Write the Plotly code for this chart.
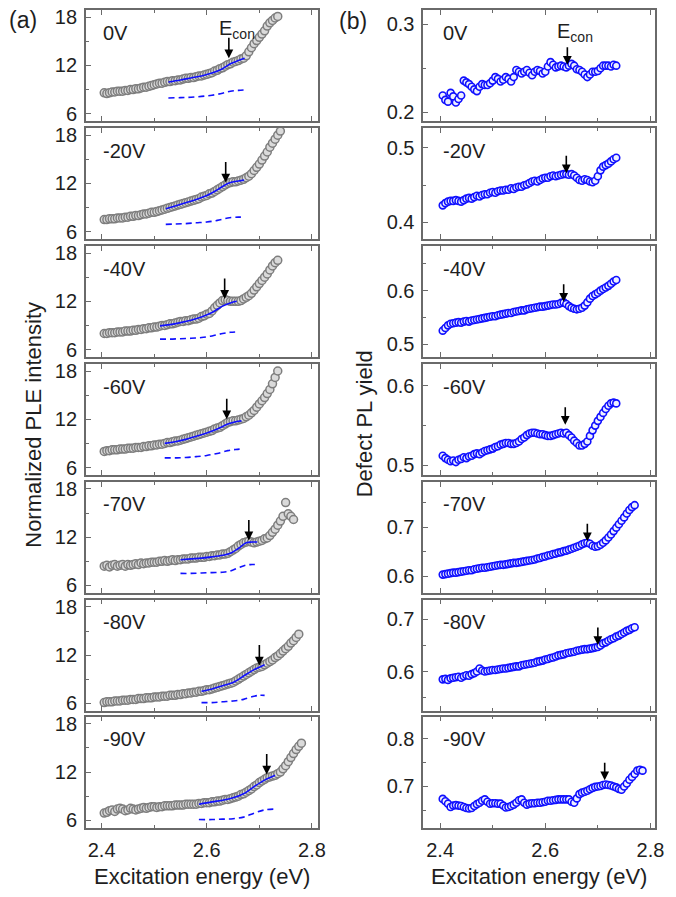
import plotly.graph_objects as go

W, H = 676, 897


def PX(x):
    return x / W


def PY(y):
    return 1 - y / H


# ---------------- data ----------------
energy = [2.405, 2.41, 2.415, 2.42, 2.425, 2.43, 2.435, 2.44, 2.445, 2.45,
          2.455, 2.46, 2.465, 2.47, 2.475, 2.48, 2.485, 2.49, 2.495, 2.5,
          2.505, 2.51, 2.515, 2.52, 2.525, 2.53, 2.535, 2.54, 2.545, 2.55,
          2.555, 2.56, 2.565, 2.57, 2.575, 2.58, 2.585, 2.59, 2.595, 2.6,
          2.605, 2.61, 2.615, 2.62, 2.625, 2.63, 2.635, 2.64, 2.645, 2.65,
          2.655, 2.66, 2.665, 2.67, 2.675, 2.68, 2.685, 2.69, 2.695, 2.7,
          2.705, 2.71, 2.715, 2.72, 2.725, 2.73, 2.735, 2.74, 2.745, 2.75,
          2.755, 2.76, 2.765, 2.77, 2.775, 2.78, 2.785]

bias_labels = ["0V", "-20V", "-40V", "-60V", "-70V", "-80V", "-90V"]

# (a) normalized PLE intensity
ple_0V = [8.6, 8.5, 8.6, 8.7, 8.7, 8.8, 8.8, 8.8, 8.9, 8.9,
          9.0, 9.0, 9.1, 9.1, 9.2, 9.3, 9.3, 9.4, 9.5, 9.6,
          9.7, 9.8, 9.8, 9.9, 10.0, 10.0, 10.1, 10.1, 10.2, 10.2,
          10.3, 10.4, 10.4, 10.5, 10.5, 10.6, 10.7, 10.7, 10.8, 10.9,
          11.0, 11.1, 11.3, 11.4, 11.6, 11.7, 11.9, 12.1, 12.2, 12.4,
          12.5, 12.6, 12.8, 12.9, 13.2, 13.7, 14.2, 14.7, 15.1, 15.5,
          15.9, 16.3, 16.9, 17.3, 17.6, 17.9, 18.1]
ple_m20V = [7.5, 7.5, 7.6, 7.6, 7.6, 7.7, 7.7, 7.7, 7.8, 7.8,
            7.9, 7.9, 8.0, 8.0, 8.1, 8.2, 8.2, 8.3, 8.4, 8.4,
            8.5, 8.6, 8.7, 8.8, 8.9, 9.0, 9.1, 9.2, 9.3, 9.4,
            9.5, 9.6, 9.7, 9.8, 9.9, 10.0, 10.1, 10.3, 10.4, 10.5,
            10.7, 10.8, 11.0, 11.2, 11.4, 11.6, 11.8, 12.0, 12.1, 12.2,
            12.2, 12.3, 12.4, 12.5, 12.7, 12.9, 13.2, 13.6, 14.0, 14.4,
            14.9, 15.4, 15.9, 16.5, 17.0, 17.5, 18.0, 18.5]
ple_m40V = [8.0, 8.0, 8.1, 8.1, 8.1, 8.2, 8.2, 8.2, 8.3, 8.3,
            8.3, 8.4, 8.4, 8.5, 8.5, 8.6, 8.6, 8.7, 8.7, 8.8,
            8.8, 8.9, 9.0, 9.0, 9.1, 9.2, 9.2, 9.3, 9.4, 9.5,
            9.5, 9.6, 9.6, 9.7, 9.8, 9.8, 9.9, 10.1, 10.2, 10.4,
            10.5, 10.8, 11.2, 11.5, 11.8, 12.1, 12.2, 12.1, 12.0, 12.0,
            12.0, 12.0, 12.1, 12.3, 12.5, 12.7, 13.0, 13.4, 13.8, 14.2,
            14.6, 15.0, 15.4, 15.9, 16.4, 16.8, 17.1]
ple_m60V = [8.0, 8.1, 8.1, 8.2, 8.2, 8.2, 8.3, 8.3, 8.3, 8.4,
            8.4, 8.4, 8.5, 8.5, 8.5, 8.6, 8.6, 8.7, 8.7, 8.8,
            8.8, 8.9, 8.9, 9.0, 9.1, 9.1, 9.2, 9.3, 9.3, 9.4,
            9.5, 9.6, 9.7, 9.8, 9.9, 10.0, 10.1, 10.2, 10.3, 10.4,
            10.5, 10.6, 10.8, 10.9, 11.0, 11.2, 11.4, 11.6, 11.7, 11.8,
            11.8, 11.9, 12.0, 12.1, 12.3, 12.5, 12.8, 13.1, 13.5, 13.9,
            14.3, 14.7, 15.2, 15.7, 16.4, 17.2, 18.0]
ple_m70V = [8.4, 8.5, 8.3, 8.5, 8.6, 8.4, 8.5, 8.6, 8.4, 8.6,
            8.5, 8.6, 8.7, 8.6, 8.8, 8.7, 8.8, 8.8, 8.9, 8.9,
            8.9, 9.0, 9.0, 9.1, 9.0, 9.1, 9.2, 9.1, 9.2, 9.2,
            9.3, 9.3, 9.3, 9.4, 9.4, 9.4, 9.5, 9.5, 9.5, 9.6,
            9.6, 9.7, 9.7, 9.8, 9.8, 9.9, 9.9, 10.0, 10.2, 10.4,
            10.6, 10.9, 11.1, 11.3, 11.4, 11.5, 11.4, 11.3, 11.4, 11.5,
            11.6, 11.8, 11.9, 12.2, 12.6, 13.0, 13.5, 14.0, 14.6, 16.3,
            14.9, 14.6, 14.2]
ple_m80V = [6.1, 6.2, 6.2, 6.2, 6.3, 6.3, 6.3, 6.4, 6.4, 6.4,
            6.5, 6.5, 6.5, 6.6, 6.6, 6.6, 6.7, 6.7, 6.7, 6.8,
            6.8, 6.8, 6.9, 6.9, 6.9, 7.0, 7.0, 7.0, 7.1, 7.1,
            7.2, 7.2, 7.3, 7.3, 7.4, 7.4, 7.5, 7.5, 7.6, 7.7,
            7.7, 7.8, 7.9, 8.0, 8.1, 8.2, 8.3, 8.4, 8.5, 8.6,
            8.8, 9.0, 9.2, 9.4, 9.6, 9.8, 10.0, 10.2, 10.4, 10.5,
            10.6, 10.8, 11.0, 11.2, 11.4, 11.7, 11.9, 12.2, 12.5, 12.8,
            13.1, 13.5, 13.8, 14.2, 14.6]
ple_m90V = [6.9, 7.0, 7.2, 7.3, 7.1, 7.4, 7.5, 7.4, 7.2, 7.3,
            7.5, 7.4, 7.3, 7.4, 7.5, 7.6, 7.5, 7.6, 7.7, 7.7,
            7.6, 7.7, 7.7, 7.8, 7.8, 7.8, 7.8, 7.9, 7.9, 7.9,
            7.9, 8.0, 8.0, 8.0, 8.0, 8.0, 8.1, 8.1, 8.2, 8.2,
            8.2, 8.3, 8.3, 8.4, 8.4, 8.5, 8.6, 8.6, 8.7, 8.8,
            8.9, 9.0, 9.2, 9.3, 9.5, 9.7, 9.9, 10.2, 10.4, 10.7,
            10.9, 11.1, 11.3, 11.4, 11.5, 11.6, 11.8, 12.0, 12.4, 12.8,
            13.3, 13.8, 14.3, 14.8, 15.2, 15.6]

# fit curves (solid) and baseline (dashed) in panel (a)
fit_x_0V = [2.527, 2.55, 2.57, 2.59, 2.61, 2.63, 2.645, 2.66, 2.672]
fit_0V = [9.95, 10.2, 10.45, 10.7, 11.05, 11.6, 12.2, 12.6, 12.9]
base_0V = [7.95, 8.0, 8.05, 8.15, 8.3, 8.55, 8.8, 8.9, 8.95]
fit_x_m20V = [2.522, 2.54, 2.56, 2.58, 2.60, 2.62, 2.64, 2.66, 2.671]
fit_m20V = [8.85, 9.2, 9.6, 10.0, 10.5, 11.2, 12.0, 12.3, 12.4]
base_m20V = [6.9, 6.95, 7.0, 7.1, 7.2, 7.4, 7.7, 7.8, 7.8]
fit_x_m40V = [2.511, 2.53, 2.55, 2.57, 2.59, 2.61, 2.63, 2.645, 2.657]
fit_m40V = [8.95, 9.1, 9.35, 9.65, 10.05, 10.6, 11.4, 11.8, 12.0]
base_m40V = [7.3, 7.3, 7.35, 7.4, 7.5, 7.7, 8.0, 8.15, 8.2]
fit_x_m60V = [2.52, 2.54, 2.56, 2.58, 2.60, 2.62, 2.64, 2.655, 2.666]
fit_m60V = [9.0, 9.2, 9.5, 9.9, 10.3, 10.8, 11.4, 11.7, 11.8]
base_m60V = [7.2, 7.2, 7.25, 7.35, 7.5, 7.75, 8.1, 8.25, 8.3]
fit_x_m70V = [2.55, 2.57, 2.59, 2.61, 2.63, 2.645, 2.66, 2.675, 2.686, 2.696]
fit_m70V = [9.2, 9.3, 9.4, 9.55, 9.75, 10.0, 10.6, 11.3, 11.4, 11.4]
base_m70V = [7.5, 7.5, 7.55, 7.6, 7.65, 7.8, 8.2, 8.55, 8.6, 8.6]
fit_x_m80V = [2.59, 2.61, 2.63, 2.65, 2.67, 2.69, 2.70, 2.71]
fit_m80V = [7.5, 7.8, 8.2, 8.6, 9.4, 10.2, 10.5, 10.8]
base_m80V = [6.1, 6.1, 6.2, 6.3, 6.5, 6.9, 7.0, 7.0]
fit_x_m90V = [2.585, 2.61, 2.63, 2.65, 2.67, 2.69, 2.71, 2.73]
fit_m90V = [8.0, 8.3, 8.5, 8.8, 9.3, 10.2, 11.0, 11.6]
base_m90V = [6.1, 6.1, 6.15, 6.2, 6.4, 6.9, 7.3, 7.4]

# (b) defect PL yield
yield_0V = [0.219, 0.214, 0.212, 0.222, 0.218, 0.211, 0.215, 0.219, 0.236, 0.234,
            0.232, 0.229, 0.226, 0.224, 0.229, 0.232, 0.231, 0.231, 0.233, 0.236,
            0.240, 0.238, 0.235, 0.237, 0.240, 0.238, 0.235, 0.240, 0.248, 0.246,
            0.244, 0.246, 0.248, 0.245, 0.242, 0.246, 0.248, 0.247, 0.244, 0.246,
            0.252, 0.257, 0.254, 0.251, 0.252, 0.253, 0.252, 0.251, 0.253, 0.255,
            0.253, 0.249, 0.248, 0.246, 0.243, 0.240, 0.243, 0.246, 0.246, 0.247,
            0.250, 0.253, 0.253, 0.253, 0.252, 0.254, 0.253]
yield_m20V = [0.423, 0.426, 0.428, 0.429, 0.429, 0.430, 0.429, 0.428, 0.430, 0.432,
              0.433, 0.432, 0.434, 0.436, 0.435, 0.437, 0.438, 0.438, 0.440, 0.441,
              0.440, 0.442, 0.443, 0.443, 0.444, 0.444, 0.446, 0.445, 0.447, 0.448,
              0.448, 0.450, 0.451, 0.453, 0.455, 0.456, 0.455, 0.457, 0.459, 0.460,
              0.460, 0.462, 0.463, 0.462, 0.463, 0.464, 0.465, 0.465, 0.464, 0.465,
              0.463, 0.460, 0.457, 0.456, 0.458, 0.457, 0.455, 0.454, 0.456, 0.462,
              0.470, 0.475, 0.477, 0.479, 0.482, 0.485, 0.487]
yield_m40V = [0.525, 0.530, 0.535, 0.538, 0.539, 0.540, 0.541, 0.540, 0.542, 0.543,
              0.542, 0.544, 0.545, 0.546, 0.547, 0.548, 0.549, 0.550, 0.551, 0.552,
              0.552, 0.554, 0.555, 0.556, 0.557, 0.558, 0.558, 0.560, 0.561, 0.562,
              0.563, 0.563, 0.565, 0.566, 0.567, 0.568, 0.569, 0.570, 0.570, 0.571,
              0.572, 0.573, 0.574, 0.574, 0.575, 0.577, 0.578, 0.575, 0.571, 0.568,
              0.566, 0.565, 0.566, 0.568, 0.572, 0.578, 0.585, 0.590, 0.593, 0.596,
              0.600, 0.603, 0.606, 0.609, 0.613, 0.617, 0.620]
yield_m60V = [0.512, 0.509, 0.507, 0.505, 0.506, 0.504, 0.507, 0.508, 0.510, 0.509,
              0.511, 0.512, 0.514, 0.515, 0.514, 0.516, 0.518, 0.519, 0.520, 0.521,
              0.523, 0.524, 0.526, 0.527, 0.528, 0.528, 0.527, 0.527, 0.528, 0.530,
              0.533, 0.535, 0.538, 0.540, 0.541, 0.541, 0.540, 0.539, 0.539, 0.538,
              0.537, 0.537, 0.538, 0.539, 0.540, 0.541, 0.540, 0.541, 0.538, 0.535,
              0.531, 0.528, 0.525, 0.525, 0.527, 0.530, 0.537, 0.544, 0.550, 0.556,
              0.561, 0.566, 0.571, 0.575, 0.578, 0.579, 0.578]
yield_m70V = [0.603, 0.604, 0.605, 0.606, 0.607, 0.607, 0.608, 0.609, 0.610, 0.611,
              0.612, 0.612, 0.614, 0.615, 0.616, 0.617, 0.617, 0.618, 0.619, 0.620,
              0.621, 0.622, 0.623, 0.623, 0.624, 0.625, 0.626, 0.627, 0.627, 0.628,
              0.629, 0.630, 0.631, 0.632, 0.633, 0.634, 0.636, 0.637, 0.639, 0.640,
              0.642, 0.643, 0.645, 0.646, 0.648, 0.649, 0.651, 0.652, 0.654, 0.656,
              0.658, 0.660, 0.662, 0.665, 0.667, 0.668, 0.666, 0.662, 0.660, 0.661,
              0.664, 0.668, 0.673, 0.679, 0.685, 0.692, 0.699, 0.706, 0.713, 0.720,
              0.728, 0.735, 0.741, 0.745]
yield_m80V = [0.585, 0.586, 0.584, 0.587, 0.588, 0.589, 0.590, 0.588, 0.591, 0.593,
              0.592, 0.595, 0.597, 0.600, 0.606, 0.602, 0.600, 0.601, 0.602, 0.603,
              0.603, 0.604, 0.605, 0.606, 0.606, 0.607, 0.608, 0.609, 0.610, 0.610,
              0.612, 0.613, 0.614, 0.615, 0.616, 0.617, 0.619, 0.620, 0.621, 0.623,
              0.624, 0.626, 0.627, 0.629, 0.631, 0.632, 0.633, 0.635, 0.636, 0.637,
              0.638, 0.640, 0.641, 0.642, 0.643, 0.643, 0.644, 0.645, 0.646, 0.647,
              0.650, 0.654, 0.656, 0.659, 0.662, 0.664, 0.667, 0.669, 0.672, 0.675,
              0.678, 0.680, 0.683, 0.685]
yield_m90V = [0.674, 0.669, 0.664, 0.657, 0.660, 0.661, 0.660, 0.659, 0.657, 0.655,
              0.654, 0.655, 0.659, 0.663, 0.666, 0.670, 0.673, 0.668, 0.664, 0.665,
              0.665, 0.664, 0.664, 0.660, 0.656, 0.657, 0.659, 0.662, 0.666, 0.671,
              0.673, 0.666, 0.662, 0.664, 0.665, 0.665, 0.666, 0.666, 0.667, 0.668,
              0.670, 0.670, 0.671, 0.672, 0.673, 0.673, 0.673, 0.673, 0.673, 0.668,
              0.666, 0.675, 0.684, 0.687, 0.689, 0.691, 0.694, 0.697, 0.699, 0.700,
              0.701, 0.703, 0.704, 0.703, 0.702, 0.700, 0.698, 0.695, 0.693, 0.700,
              0.706, 0.714, 0.720, 0.726, 0.733, 0.735, 0.733]

# E_con arrow tips (energy, value)
econ_ple_x = [2.642, 2.636, 2.634, 2.638, 2.680, 2.700, 2.714]
econ_ple_y = [12.9, 12.1, 12.3, 12.0, 11.6, 10.7, 11.7]
econ_yield_x = [2.642, 2.640, 2.635, 2.638, 2.680, 2.700, 2.713]
econ_yield_y = [0.254, 0.466, 0.579, 0.551, 0.671, 0.651, 0.713]

# y ranges of panel (b)
yield_ranges = [[0.19, 0.3165], [0.378, 0.527], [0.476, 0.684], [0.488, 0.628],
                [0.566, 0.793], [0.525, 0.738], [0.614, 0.846]]
ple_range = [5.1, 18.9]

# ---------------- figure ----------------
ple_sets = [ple_0V, ple_m20V, ple_m40V, ple_m60V, ple_m70V, ple_m80V, ple_m90V]
fit_sets = [(fit_x_0V, fit_0V, base_0V), (fit_x_m20V, fit_m20V, base_m20V),
            (fit_x_m40V, fit_m40V, base_m40V), (fit_x_m60V, fit_m60V, base_m60V),
            (fit_x_m70V, fit_m70V, base_m70V), (fit_x_m80V, fit_m80V, base_m80V),
            (fit_x_m90V, fit_m90V, base_m90V)]
yield_sets = [yield_0V, yield_m20V, yield_m40V, yield_m60V, yield_m70V, yield_m80V, yield_m90V]

FRAME = "#6a6a6a"
TXT = "#1e1e1e"
FONT = "Liberation Sans, Arial, sans-serif"
BLUE = "#1010ff"

# page-pixel geometry (top-left of the screenshot)
panel_top = [5, 124, 243, 362, 481, 600, 718]
panel_h = 114
col_x = [(86, 323), (428, 665)]

fig = go.Figure()
layout = dict(width=W, height=H, margin=dict(l=0, r=0, t=0, b=0),
              paper_bgcolor="white", plot_bgcolor="white", showlegend=False,
              font=dict(family=FONT, color=TXT, size=20))
annotations = []

for i in range(7):
    for c in range(2):
        n = i * 2 + c + 1
        xa = "x" if n == 1 else f"x{n}"
        ya = "y" if n == 1 else f"y{n}"
        xk = "xaxis" if n == 1 else f"xaxis{n}"
        yk = "yaxis" if n == 1 else f"yaxis{n}"
        x0, x1 = col_x[c]
        t = panel_top[i]
        layout[xk] = dict(
            domain=[PX(x0 + 1), PX(x1 - 1)], anchor=ya,
            range=[2.37, 2.811] if c == 0 else [2.368, 2.809],
            tick0=2.4, dtick=0.2, ticks="inside", ticklen=5, tickwidth=1.3,
            tickcolor=FRAME, showline=True, linecolor=FRAME, linewidth=1.6,
            mirror="ticks", showgrid=False, zeroline=False,
            showticklabels=(i == 6), tickfont=dict(size=20, color=TXT),
            ticklabelstandoff=4,
            minor=dict(dtick=0.1, tick0=2.4, ticks="inside", ticklen=3,
                       tickwidth=1.2, tickcolor=FRAME, showgrid=False))
        if c == 0:
            yr, ydt, ymd = ple_range, 6, 3
        else:
            yr, ydt, ymd = yield_ranges[i], 0.1, 0.05
        layout[yk] = dict(
            domain=[PY(t + panel_h - 1), PY(t + 1)], anchor=xa,
            range=yr, tick0=0, dtick=ydt, ticks="inside", ticklen=5, tickwidth=1.3,
            tickcolor=FRAME, showline=True, linecolor=FRAME, linewidth=1.6,
            mirror=True, showgrid=False, zeroline=False,
            tickfont=dict(size=20, color=TXT), ticklabelstandoff=3,
            minor=dict(dtick=ymd, tick0=0, ticks="inside", ticklen=3,
                       tickwidth=1.2, tickcolor=FRAME, showgrid=False))

        if c == 0:
            ys = ple_sets[i]
            fig.add_trace(go.Scatter(
                x=energy[:len(ys)], y=ys, mode="markers", xaxis=xa, yaxis=ya,
                marker=dict(symbol="circle", size=8, color="#dadada",
                            line=dict(color="#7e7e7e", width=1.5))))
            fx, fy, fb = fit_sets[i]
            fig.add_trace(go.Scatter(x=fx, y=fy, mode="lines", xaxis=xa, yaxis=ya,
                                     line=dict(color=BLUE, width=1.6, shape="spline")))
            fig.add_trace(go.Scatter(x=fx, y=fb, mode="lines", xaxis=xa, yaxis=ya,
                                     line=dict(color=BLUE, width=1.6, dash="6px,4px",
                                               shape="spline")))
            ax_x, ax_y, alen = econ_ple_x[i], econ_ple_y[i], -22
        else:
            ys = yield_sets[i]
            fig.add_trace(go.Scatter(
                x=energy[:len(ys)], y=ys, mode="markers", xaxis=xa, yaxis=ya,
                marker=dict(symbol="circle", size=7, color="#eef0ff",
                            line=dict(color=BLUE, width=1.6))))
            ax_x, ax_y, alen = econ_yield_x[i], econ_yield_y[i], -19

        annotations.append(dict(x=ax_x, y=ax_y, xref=xa, yref=ya, text="",
                                showarrow=True, ax=0, ay=alen, arrowhead=2,
                                arrowsize=1.1, arrowwidth=1.6, arrowcolor="black"))
        annotations.append(dict(x=PX(102 if c == 0 else 447), y=PY(t + 24),
                                xref="paper", yref="paper",
                                text=bias_labels[i], showarrow=False,
                                xanchor="left", yanchor="middle",
                                font=dict(size=20, color=TXT)))

# E_con labels
annotations.append(dict(x=PX(220), y=PY(26), xref="paper", yref="paper",
                        text="E<sub>con</sub>", showarrow=False,
                        xanchor="left", yanchor="middle",
                        font=dict(size=20, color=TXT)))
annotations.append(dict(x=PX(562), y=PY(29), xref="paper", yref="paper",
                        text="E<sub>con</sub>", showarrow=False,
                        xanchor="left", yanchor="middle",
                        font=dict(size=20, color=TXT)))
# panel tags
annotations.append(dict(x=PX(7), y=PY(16), xref="paper", yref="paper", text="(a)",
                        showarrow=False, xanchor="left", yanchor="middle",
                        font=dict(size=23, color=TXT)))
annotations.append(dict(x=PX(342), y=PY(17), xref="paper", yref="paper", text="(b)",
                        showarrow=False, xanchor="left", yanchor="middle",
                        font=dict(size=23, color=TXT)))
# axis titles
for cx in [(86 + 323) / 2, (428 + 665) / 2]:
    annotations.append(dict(x=PX(cx), y=PY(880), xref="paper", yref="paper",
                            text="Excitation energy (eV)", showarrow=False,
                            xanchor="center", yanchor="middle",
                            font=dict(size=22, color=TXT)))
annotations.append(dict(x=PX(34), y=PY(425), xref="paper", yref="paper",
                        text="Normalized PLE intensity", textangle=-90, showarrow=False,
                        xanchor="center", yanchor="middle", font=dict(size=22, color=TXT)))
annotations.append(dict(x=PX(369), y=PY(424), xref="paper", yref="paper",
                        text="Defect PL yield", textangle=-90, showarrow=False,
                        xanchor="center", yanchor="middle", font=dict(size=22, color=TXT)))

layout["annotations"] = annotations
fig.update_layout(**layout)
fig.write_html("out.html", config={"displayModeBar": False},
               post_script="document.body.style.margin='0px';"
                           "document.body.style.padding='0px';"
                           "document.body.style.overflow='hidden';")
